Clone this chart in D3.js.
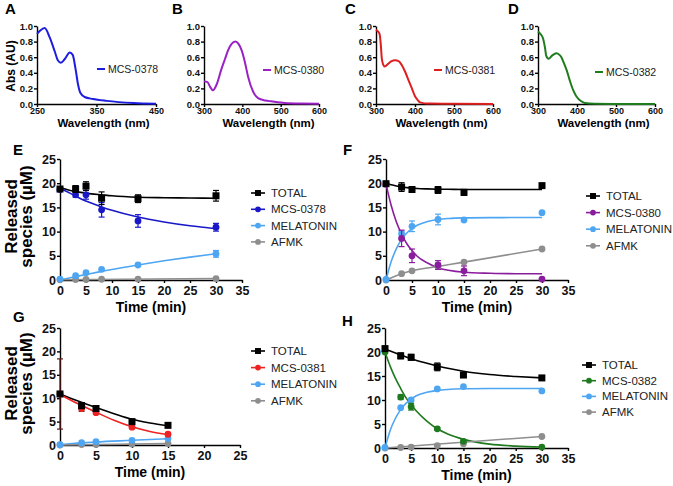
<!DOCTYPE html>
<html>
<head>
<meta charset="utf-8">
<script src="https://cdn.jsdelivr.net/npm/d3@7"></script>
<style>
  body { margin: 0; background: #fff; }
  svg { font-family: "Liberation Sans", Arial, sans-serif; }
</style>
</head>
<body>
<svg id="fig" width="673" height="486"></svg>
<script>
// ---- absorbance spectra (A-D) ----
const absTicks = [0, 0.2, 0.4, 0.6, 0.8, 1.0];

const wlA  = [250, 255, 263, 271, 280, 285, 290, 297, 305, 310, 315, 319, 323, 330, 344, 367, 412, 450];
const absA = [0.90, 0.94, 0.975, 0.86, 0.67, 0.56, 0.53, 0.58, 0.66, 0.63, 0.44, 0.25, 0.14, 0.09, 0.064, 0.04, 0.013, 0.004];

const wlB  = [300, 309, 316, 323, 333, 345, 355, 363, 372, 382, 390, 398, 407, 415, 428, 441, 460, 476, 511, 550, 600];
const absB = [0.29, 0.28, 0.22, 0.175, 0.25, 0.44, 0.58, 0.69, 0.77, 0.80, 0.77, 0.69, 0.53, 0.35, 0.16, 0.076, 0.045, 0.034, 0.013, 0.006, 0.004];

const wlC  = [300, 305, 309, 312, 315, 319, 322, 332, 340, 349, 358, 366, 375, 383, 392, 400, 407, 413, 425, 438, 500, 600];
const absC = [0.95, 0.93, 0.90, 0.78, 0.58, 0.50, 0.48, 0.52, 0.55, 0.56, 0.55, 0.50, 0.41, 0.31, 0.20, 0.10, 0.05, 0.02, 0.008, 0.005, 0.002, 0.0];

const wlD  = [300, 306, 313, 318, 321, 327, 336, 347, 355, 360, 366, 373, 381, 390, 397, 403, 411, 420, 446, 500, 600];
const absD = [0.93, 0.90, 0.84, 0.72, 0.62, 0.58, 0.62, 0.65, 0.63, 0.60, 0.53, 0.44, 0.31, 0.18, 0.11, 0.07, 0.035, 0.013, 0.003, 0.001, 0.0];

// ---- release kinetics (E-H) ----
const concTicks = [0, 5, 10, 15, 20, 25];

// E: MCS-0378
const tE = [0, 3, 5, 8, 15, 30];
const totalE = [18.8, 18.8, 19.4, 16.9, 16.8, 17.4];
const totalErrE = [0.3, 0.7, 0.9, 1.3, 0.8, 1.1];
const mcs0378 = [18.7, 17.6, 17.6, 14.5, 12.2, 10.9];
const mcs0378Err = [0.3, 0.5, 0.9, 1.5, 1.3, 0.8];
const melE = [0.2, 0.9, 1.5, 2.2, 3.1, 5.4];
const melErrE = [0, 0.2, 0.2, 0.2, 0.2, 0.7];
const afmkE = [0.05, 0.1, 0.1, 0.15, 0.2, 0.3];
const fitTE = [0, 2, 4, 6, 8, 10, 15, 20, 25, 30];
const totalFitE = [19.1, 18.5, 18.1, 17.8, 17.6, 17.4, 17.1, 17.0, 16.95, 16.9];
const mcs0378Fit = [19.0, 17.9, 16.8, 15.9, 15.1, 14.4, 13.0, 12.0, 11.2, 10.6];
const melFitE = [0, 0.47, 0.92, 1.36, 1.77, 2.18, 3.1, 3.96, 4.72, 5.41];
const afmkFitTE = [0, 30];
const afmkFitE = [0.05, 0.3];

// F: MCS-0380
const tF = [0, 3, 5, 10, 15, 30];
const totalF = [19.9, 19.2, 18.7, 18.6, 18.1, 19.5];
const totalErrF = [0.3, 0.9, 0.5, 0.7, 0.6, 0.4];
const mcs0380 = [19.8, 8.6, 5.0, 3.1, 1.9, 0.2];
const mcs0380Err = [0.3, 1.7, 1.4, 0.9, 1.0, 0.2];
const melF = [0.1, 9.6, 11.1, 12.5, 12.4, 13.9];
const melErrF = [0, 0.5, 1.1, 1.1, 0.3, 0.2];
const afmkF = [0, 1.3, 1.9, 2.8, 3.7, 6.4];
const fitTF = [0, 1, 2, 3, 4, 5, 6, 8, 10, 12, 15, 20, 25, 30];
const totalFitF = [20.0, 19.66, 19.41, 19.22, 19.09, 18.99, 18.91, 18.82, 18.76, 18.74, 18.71, 18.70, 18.70, 18.70];
const mcs0380Fit = [19.8, 15.4, 12.0, 9.5, 7.5, 6.1, 4.9, 3.5, 2.5, 2.0, 1.6, 1.4, 1.3, 1.3];
const melFitF = [0, 3.8, 6.5, 8.4, 9.7, 10.6, 11.3, 12.1, 12.5, 12.7, 12.83, 12.89, 12.9, 12.9];

// G: MCS-0381
const tG = [0, 3, 5, 10, 15];
const totalG = [10.9, 8.4, 7.8, 5.0, 4.2];
const totalErrG = [0.3, 0.6, 0.5, 0.3, 0.3];
const mcs0381 = [10.9, 7.8, 6.9, 3.8, 2.3];
const mcs0381Err = [7.5, 0.6, 0.3, 0.3, 0.3];
const melG = [0.05, 0.5, 0.7, 1.0, 1.4];
const afmkG = [0, 0.1, 0.1, 0.2, 0.3];
const fitTG = [0, 2.5, 5, 7.5, 10, 12.5, 15];
const totalFitG = [10.9, 9.4, 8.0, 6.7, 5.5, 4.7, 4.1];
const mcs0381Fit = [10.8, 8.8, 7.0, 5.3, 3.9, 2.9, 2.2];
const melFitG = [0.05, 0.45, 0.65, 1.0, 1.35];
const afmkFitTG = [0, 15];
const afmkFitG = [0, 0.3];

// H: MCS-0382
const tH = [0, 3, 5, 10, 15, 30];
const totalH = [20.7, 19.2, 18.9, 16.9, 15.2, 14.6];
const totalErrH = [0.5, 0.6, 0.6, 0.8, 0.4, 0.3];
const mcs0382 = [20.0, 10.6, 8.6, 4.0, 1.4, 0.2];
const mcs0382Err = [0.3, 0.5, 0.7, 0.3, 0.3, 0.1];
const melH = [0.1, 8.4, 10.0, 12.3, 12.8, 11.9];
const afmkH = [0, 0.1, 0.2, 0.5, 0.9, 2.4];
const totalFitTH = [0, 2.5, 5, 7.5, 10, 12.5, 15, 20, 25, 30];
const totalFitH = [20.6, 19.6, 18.6, 17.8, 17.1, 16.5, 16.0, 15.3, 14.9, 14.6];
const fitTH = [0, 1, 2, 3, 4, 5, 6, 8, 10, 12, 15, 20, 25, 30];
const mcs0382Fit = [20.0, 17.0, 14.5, 12.4, 10.5, 9.0, 7.7, 5.6, 4.0, 2.9, 1.8, 0.8, 0.4, 0.2];
const melFitH = [0, 3.7, 6.2, 8.0, 9.3, 10.2, 10.9, 11.6, 12.0, 12.2, 12.33, 12.39, 12.4, 12.4];
const afmkFitTH = [0, 30];
const afmkFitH = [0, 2.4];

const cBlack = "#000", cMel = "#4ea6f3", cAfmk = "#8e8e8e";

const svg = d3.select("#fig");

function styleAxis(g, size) {
  g.selectAll("path, line").attr("stroke", "#000").attr("stroke-width", 1.4);
  g.selectAll("text").attr("font-size", size).attr("font-weight", "bold").attr("fill", "#111");
}

function letter(txt, x, y) {
  svg.append("text").attr("x", x).attr("y", y).text(txt)
    .attr("font-size", 15).attr("font-weight", "bold");
}

// spectrum panel
function spectrum(o) {
  const x = d3.scaleLinear().domain(o.xDomain).range([o.x0, o.x1]);
  const y = d3.scaleLinear().domain([0, 1]).range([104, 26]);

  svg.append("g").attr("transform", "translate(0,104)")
    .call(d3.axisBottom(x).tickValues(o.ticks).tickSize(3).tickSizeOuter(0).tickPadding(1))
    .call(g => styleAxis(g, 9));
  svg.append("g").attr("transform", `translate(${o.x0},0)`)
    .call(d3.axisLeft(y).tickValues(absTicks).tickSize(3).tickSizeOuter(0).tickPadding(1).tickFormat(d3.format(".1f")))
    .call(g => styleAxis(g, 9.5));

  svg.append("path").datum(d3.zip(o.wl, o.abs))
    .attr("fill", "none").attr("stroke", o.color).attr("stroke-width", 2)
    .attr("d", d3.line().x(d => x(d[0])).y(d => y(d[1])).curve(d3.curveMonotoneX));

  svg.append("text").attr("x", (o.x0 + o.x1) / 2 + 7).attr("y", 127)
    .attr("text-anchor", "middle").attr("font-size", 11.5).attr("font-weight", "bold")
    .text("Wavelength (nm)");

  // legend
  svg.append("line").attr("x1", o.lx).attr("x2", o.lx + 8).attr("y1", o.ly).attr("y2", o.ly)
    .attr("stroke", o.color).attr("stroke-width", 2);
  svg.append("text").attr("x", o.lx + 11).attr("y", o.ly).attr("dy", "0.35em")
    .attr("font-size", 10.5).attr("fill", "#222").text(o.name);

  letter(o.letter, o.letterX, 14);
}

spectrum({ letter: "A", letterX: 5, x0: 37, x1: 156, xDomain: [250, 450], ticks: [250, 350, 450],
  wl: wlA, abs: absA, color: "#1d1de0", name: "MCS-0378", lx: 97, ly: 69 });
spectrum({ letter: "B", letterX: 172, x0: 204, x1: 319, xDomain: [300, 600], ticks: [300, 400, 500, 600],
  wl: wlB, abs: absB, color: "#9a22c4", name: "MCS-0380", lx: 263, ly: 70 });
spectrum({ letter: "C", letterX: 345, x0: 376, x1: 493, xDomain: [300, 600], ticks: [300, 400, 500, 600],
  wl: wlC, abs: absC, color: "#de1f1f", name: "MCS-0381", lx: 434, ly: 70 });
spectrum({ letter: "D", letterX: 508, x0: 538, x1: 655, xDomain: [300, 600], ticks: [300, 400, 500, 600],
  wl: wlD, abs: absD, color: "#1f7d1f", name: "MCS-0382", lx: 595, ly: 72 });

svg.append("text").attr("transform", "translate(15,66) rotate(-90)")
  .attr("text-anchor", "middle").attr("font-size", 12).attr("font-weight", "bold").text("Abs (AU)");

// kinetics panel
function kinetics(o) {
  const x = d3.scaleLinear().domain([0, o.xMax]).range([o.x0, o.x1]);
  const y = d3.scaleLinear().domain([0, 25]).range([o.yBot, o.yTop]);

  svg.append("g").attr("transform", `translate(0,${o.yBot})`)
    .call(d3.axisBottom(x).ticks(o.xMax / 5).tickSize(3).tickSizeOuter(0).tickPadding(3))
    .call(g => styleAxis(g, 12.5));
  svg.append("g").attr("transform", `translate(${o.x0},0)`)
    .call(d3.axisLeft(y).tickValues(concTicks).tickSize(3).tickSizeOuter(0).tickPadding(1))
    .call(g => styleAxis(g, 12.5));

  const line = d3.line().x(d => x(d[0])).y(d => y(d[1])).curve(d3.curveMonotoneX);

  // fits
  o.series.forEach(s => {
    svg.append("path").datum(d3.zip(s.fitT, s.fit))
      .attr("fill", "none").attr("stroke", s.color).attr("stroke-width", 1.6).attr("d", line);
  });

  // error bars + markers
  o.series.slice().reverse().forEach(s => {
    const pts = d3.zip(s.t, s.v, s.err || s.t.map(() => 0));
    const eb = svg.append("g").attr("stroke", s.errColor || s.color).attr("stroke-width", 1.2);
    pts.filter(d => d[2] > 0.25).forEach(d => {
      eb.append("line").attr("x1", x(d[0])).attr("x2", x(d[0])).attr("y1", y(d[1] - d[2])).attr("y2", y(d[1] + d[2]));
      [d[1] - d[2], d[1] + d[2]].forEach(v => eb.append("line")
        .attr("x1", x(d[0]) - 3).attr("x2", x(d[0]) + 3).attr("y1", y(v)).attr("y2", y(v)));
    });
    drawMarks(svg.append("g"), pts.map(d => [x(d[0]), y(d[1])]), s);
  });

  // legend
  o.series.forEach((s, i) => {
    const ly = o.ly + i * o.ldy;
    svg.append("line").attr("x1", o.lx).attr("x2", o.lx + 14).attr("y1", ly).attr("y2", ly)
      .attr("stroke", s.color).attr("stroke-width", 1.6);
    drawMarks(svg.append("g"), [[o.lx + 7, ly]], s, 0.85);
    svg.append("text").attr("x", o.lx + 20).attr("y", ly).attr("dy", "0.35em")
      .attr("font-size", 11.5).attr("fill", "#222").text(s.name);
  });

  svg.append("text").attr("x", (o.x0 + o.x1) / 2).attr("y", o.yBot + 32)
    .attr("text-anchor", "middle").attr("font-size", 14).attr("font-weight", "bold").text("Time (min)");

  if (o.yTitle) {
    const cy = (o.yTop + o.yBot) / 2 - 3;
    svg.append("text").attr("transform", `translate(17,${cy}) rotate(-90)`)
      .attr("text-anchor", "middle").attr("font-size", 17).attr("font-weight", "bold").text("Released");
    svg.append("text").attr("transform", `translate(32,${cy}) rotate(-90)`)
      .attr("text-anchor", "middle").attr("font-size", 17).attr("font-weight", "bold").text("species (µM)");
  }
  letter(o.letter, o.letterX, o.letterY);
}

function drawMarks(g, pts, s, k = 1) {
  if (s.shape === "square") {
    const h = 3.5 * k;
    g.selectAll("rect").data(pts).join("rect")
      .attr("x", d => d[0] - h).attr("y", d => d[1] - h).attr("width", 2 * h).attr("height", 2 * h)
      .attr("fill", s.color);
  } else {
    g.selectAll("circle").data(pts).join("circle")
      .attr("cx", d => d[0]).attr("cy", d => d[1]).attr("r", 3.4 * k).attr("fill", s.color);
  }
}

kinetics({ letter: "E", letterX: 13, letterY: 155, x0: 60, x1: 242, yTop: 159, yBot: 280, xMax: 35, yTitle: true,
  lx: 251, ly: 193, ldy: 16.3,
  series: [
    { name: "TOTAL", color: cBlack, shape: "square", t: tE, v: totalE, err: totalErrE, fitT: fitTE, fit: totalFitE },
    { name: "MCS-0378", color: "#1818c8", shape: "circle", t: tE, v: mcs0378, err: mcs0378Err, fitT: fitTE, fit: mcs0378Fit },
    { name: "MELATONIN", color: cMel, shape: "circle", t: tE, v: melE, err: melErrE, fitT: fitTE, fit: melFitE },
    { name: "AFMK", color: cAfmk, shape: "circle", t: tE, v: afmkE, fitT: afmkFitTE, fit: afmkFitE }
  ] });

kinetics({ letter: "F", letterX: 343, letterY: 155, x0: 386, x1: 568, yTop: 159, yBot: 280, xMax: 35,
  lx: 586, ly: 196, ldy: 16.6,
  series: [
    { name: "TOTAL", color: cBlack, shape: "square", t: tF, v: totalF, err: totalErrF, fitT: fitTF, fit: totalFitF },
    { name: "MCS-0380", color: "#8a1c9e", shape: "circle", t: tF, v: mcs0380, err: mcs0380Err, fitT: fitTF, fit: mcs0380Fit },
    { name: "MELATONIN", color: cMel, shape: "circle", t: tF, v: melF, err: melErrF, fitT: fitTF, fit: melFitF },
    { name: "AFMK", color: cAfmk, shape: "circle", t: tF, v: afmkF, fitT: tF, fit: afmkF }
  ] });

kinetics({ letter: "G", letterX: 13, letterY: 322, x0: 60, x1: 240, yTop: 328, yBot: 445, xMax: 25, yTitle: true,
  lx: 251, ly: 351, ldy: 16.6,
  series: [
    { name: "TOTAL", color: cBlack, shape: "square", t: tG, v: totalG, err: totalErrG, fitT: fitTG, fit: totalFitG },
    { name: "MCS-0381", color: "#ee2222", errColor: "#5e1a1a", shape: "circle", t: tG, v: mcs0381, err: mcs0381Err, fitT: fitTG, fit: mcs0381Fit },
    { name: "MELATONIN", color: cMel, shape: "circle", t: tG, v: melG, fitT: tG, fit: melFitG },
    { name: "AFMK", color: cAfmk, shape: "circle", t: tG, v: afmkG, fitT: afmkFitTG, fit: afmkFitG }
  ] });

kinetics({ letter: "H", letterX: 342, letterY: 326, x0: 385, x1: 568, yTop: 328, yBot: 448, xMax: 35,
  lx: 582, ly: 365, ldy: 15.7,
  series: [
    { name: "TOTAL", color: cBlack, shape: "square", t: tH, v: totalH, err: totalErrH, fitT: totalFitTH, fit: totalFitH },
    { name: "MCS-0382", color: "#1f7a1f", shape: "circle", t: tH, v: mcs0382, err: mcs0382Err, fitT: fitTH, fit: mcs0382Fit },
    { name: "MELATONIN", color: cMel, shape: "circle", t: tH, v: melH, fitT: fitTH, fit: melFitH },
    { name: "AFMK", color: cAfmk, shape: "circle", t: tH, v: afmkH, fitT: afmkFitTH, fit: afmkFitH }
  ] });
</script>
</body>
</html>
